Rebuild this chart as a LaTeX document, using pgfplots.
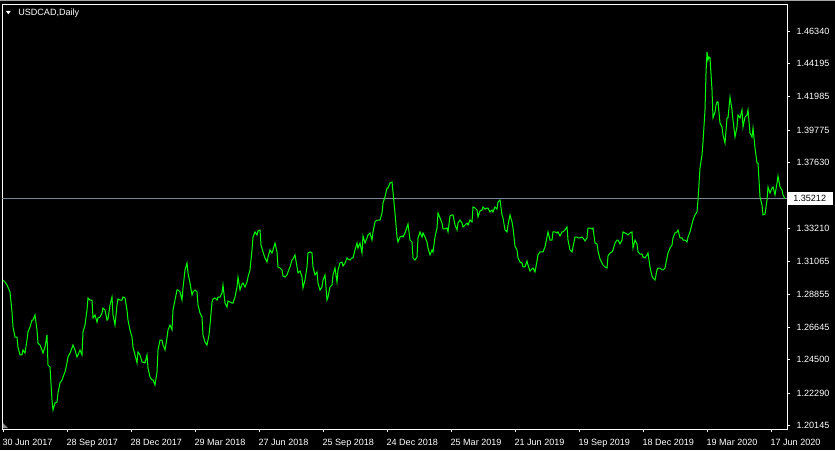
\documentclass[border=0pt]{standalone}
\usepackage{fontspec}
\setmainfont{Liberation Sans}
\usepackage{pgfplots}
\pgfplotsset{compat=1.18}
\definecolor{mtlime}{RGB}{0,255,0}
\definecolor{bidgray}{RGB}{119,136,153}
\begin{document}
\fontsize{6.8}{8}\selectfont
\begin{tikzpicture}[x=0.75pt,y=0.75pt]
\fill[black] (0,0) rectangle (835,450);
\fill[black!35] (0,448.6) rectangle (835,450);
\begin{axis}[
  at={(1.5pt,15.75pt)}, anchor=south west,
  scale only axis, width=588.98pt, height=318.53pt,
  xmin=2, xmax=787.3, ymin=1.19897, ymax=1.48135,
  axis line style={white, line width=0.75pt},
  tick style={white, line width=0.75pt},
  tick align=outside, major tick length=2.25pt,
  xtick pos=left, ytick pos=right,
  yticklabel pos=right,
  xtick={3.3,67.3,131.3,195.3,259.3,323.3,387.3,451.3,515.3,579.3,643.3,707.3,771.3},
  xticklabels={30 Jun 2017,28 Sep 2017,28 Dec 2017,29 Mar 2018,27 Jun 2018,25 Sep 2018,24 Dec 2018,25 Mar 2019,21 Jun 2019,19 Sep 2019,18 Dec 2019,19 Mar 2020,17 Jun 2020},
  ytick={1.20145,1.22290,1.24500,1.26645,1.28855,1.31065,1.33210,1.37630,1.39775,1.41985,1.44195,1.46340},
  yticklabels={1.20145,1.22290,1.24500,1.26645,1.28855,1.31065,1.33210,1.37630,1.39775,1.41985,1.44195,1.46340},
  xticklabel style={anchor=base west, inner sep=0pt, xshift=-0.75pt, yshift=-9.75pt, text=white},
  yticklabel style={anchor=west, inner sep=0pt, xshift=4.5pt, text=white},
  xmajorgrids=false, ymajorgrids=false,
]
\addplot[bidgray, line width=0.75pt, forget plot] coordinates {(2,1.35212) (787.3,1.35212)};
\addplot[mtlime, line width=0.75pt, no marks, sharp plot] coordinates {
(3,1.2980)(5,1.2967)(7,1.2947)(10,1.2901)(12,1.2768)(13,1.2668)(15,1.2601)(17,1.2601)(18,1.2535)(20,1.2482)
(22,1.2482)(23,1.2515)(25,1.2495)(27,1.2581)(28,1.2635)(30,1.2668)(32,1.2714)(33,1.2714)(35,1.2748)(37,1.2648)
(38,1.2561)(40,1.2548)(42,1.2515)(43,1.2495)(45,1.2535)(47,1.2615)(48,1.2415)(50,1.2402)(52,1.2183)(53,1.2116)
(55,1.2163)(57,1.2169)(58,1.2229)(60,1.2296)(62,1.2316)(63,1.2335)(65,1.2369)(67,1.2429)(68,1.2468)(70,1.2495)
(72,1.2528)(73,1.2548)(75,1.2515)(77,1.2468)(78,1.2482)(80,1.2515)(82,1.2482)(83,1.2635)(85,1.2681)(87,1.2781)
(88,1.2861)(90,1.2847)(92,1.2847)(93,1.2728)(95,1.2748)(97,1.2701)(98,1.2728)(100,1.2734)(102,1.2761)(103,1.2794)
(105,1.2781)(107,1.2714)(108,1.2721)(110,1.2814)(112,1.2867)(113,1.2748)(115,1.2681)(117,1.2814)(118,1.2854)(120,1.2847)
(122,1.2847)(123,1.2867)(125,1.2861)(127,1.2781)(128,1.2714)(130,1.2648)(132,1.2601)(133,1.2535)(135,1.2482)(137,1.2429)
(138,1.2502)(140,1.2482)(142,1.2435)(143,1.2435)(145,1.2429)(147,1.2482)(148,1.2395)(150,1.2335)(152,1.2316)(153,1.2316)
(155,1.2282)(157,1.2369)(158,1.2515)(160,1.2581)(162,1.2581)(163,1.2548)(165,1.2515)(167,1.2595)(168,1.2648)(170,1.2681)
(172,1.2648)(173,1.2781)(175,1.2847)(177,1.2914)(178,1.2914)(180,1.2901)(182,1.2847)(183,1.2927)(185,1.3047)(187,1.3093)
(188,1.3027)(190,1.2960)(192,1.2881)(193,1.2901)(195,1.2914)(197,1.2901)(198,1.2814)(200,1.2761)(202,1.2734)(203,1.2615)
(205,1.2568)(207,1.2548)(209,1.2615)(210,1.2681)(212,1.2834)(213,1.2854)(215,1.2861)(217,1.2847)(218,1.2867)(220,1.2867)
(222,1.2894)(223,1.2947)(225,1.2827)(227,1.2801)(228,1.2841)(230,1.2834)(232,1.2827)(233,1.2827)(235,1.2867)(237,1.2934)
(238,1.3000)(240,1.2914)(242,1.2954)(243,1.2960)(245,1.2934)(247,1.2967)(248,1.3000)(250,1.3047)(252,1.3180)(253,1.3266)
(255,1.3300)(257,1.3280)(258,1.3306)(260,1.3313)(261,1.3213)(263,1.3167)(265,1.3127)(267,1.3100)(268,1.3133)(270,1.3180)
(272,1.3160)(273,1.3180)(275,1.3226)(277,1.3167)(278,1.3067)(280,1.3060)(282,1.3047)(283,1.3007)(285,1.3000)(287,1.3014)
(288,1.3034)(290,1.3067)(292,1.3113)(293,1.3120)(295,1.3147)(297,1.3067)(298,1.3027)(300,1.3040)(302,1.3000)(303,1.2927)
(305,1.2980)(307,1.3067)(308,1.3160)(310,1.3167)(312,1.3160)(313,1.3067)(315,1.3014)(317,1.3034)(318,1.2960)(320,1.2914)
(322,1.2934)(323,1.2980)(325,1.3014)(327,1.2847)(328,1.2867)(330,1.2934)(332,1.2947)(333,1.3014)(335,1.3060)(337,1.2967)
(338,1.3047)(340,1.3093)(342,1.3100)(343,1.3073)(345,1.3093)(347,1.3127)(348,1.3120)(350,1.3113)(352,1.3127)(353,1.3127)
(355,1.3180)(357,1.3226)(358,1.3193)(360,1.3226)(362,1.3160)(363,1.3273)(365,1.3226)(367,1.3260)(368,1.3280)(370,1.3293)
(372,1.3246)(373,1.3300)(375,1.3366)(377,1.3379)(378,1.3379)(380,1.3379)(382,1.3426)(383,1.3492)(385,1.3532)(387,1.3592)
(388,1.3592)(390,1.3625)(392,1.3632)(393,1.3566)(395,1.3426)(397,1.3266)(398,1.3233)(400,1.3266)(402,1.3273)(403,1.3266)
(405,1.3293)(407,1.3333)(408,1.3353)(410,1.3246)(412,1.3233)(413,1.3127)(415,1.3113)(417,1.3133)(418,1.3260)(420,1.3300)
(422,1.3266)(423,1.3293)(425,1.3266)(427,1.3233)(428,1.3193)(430,1.3147)(432,1.3180)(433,1.3167)(435,1.3266)(437,1.3326)
(438,1.3426)(440,1.3393)(442,1.3359)(443,1.3320)(445,1.3320)(447,1.3326)(448,1.3300)(450,1.3406)(452,1.3413)(453,1.3413)
(455,1.3346)(457,1.3313)(458,1.3359)(460,1.3379)(462,1.3359)(463,1.3333)(465,1.3346)(467,1.3359)(468,1.3346)(470,1.3379)
(472,1.3366)(473,1.3466)(475,1.3459)(477,1.3446)(478,1.3399)(480,1.3439)(482,1.3446)(483,1.3466)(485,1.3452)(487,1.3459)
(488,1.3459)(490,1.3433)(492,1.3446)(493,1.3433)(495,1.3466)(497,1.3452)(498,1.3499)(500,1.3512)(502,1.3413)(503,1.3393)
(505,1.3313)(507,1.3300)(508,1.3346)(510,1.3413)(512,1.3366)(513,1.3326)(515,1.3206)(517,1.3180)(518,1.3127)(520,1.3100)
(522,1.3093)(523,1.3067)(525,1.3067)(527,1.3107)(528,1.3080)(530,1.3040)(532,1.3054)(533,1.3060)(535,1.3034)(537,1.3107)
(538,1.3147)(540,1.3167)(542,1.3167)(543,1.3167)(545,1.3200)(547,1.3266)(548,1.3300)(550,1.3246)(552,1.3246)(553,1.3300)
(555,1.3300)(557,1.3293)(558,1.3300)(560,1.3273)(562,1.3300)(563,1.3300)(565,1.3313)(567,1.3333)(568,1.3246)(570,1.3180)
(572,1.3167)(573,1.3200)(575,1.3266)(577,1.3266)(578,1.3260)(580,1.3260)(582,1.3266)(583,1.3260)(585,1.3240)(587,1.3260)
(588,1.3326)(590,1.3326)(592,1.3320)(593,1.3326)(595,1.3226)(597,1.3220)(598,1.3173)(600,1.3120)(602,1.3093)(603,1.3080)
(605,1.3067)(607,1.3060)(608,1.3140)(610,1.3160)(612,1.3167)(613,1.3180)(615,1.3226)(617,1.3246)(618,1.3246)(620,1.3220)
(622,1.3246)(623,1.3300)(625,1.3293)(627,1.3286)(628,1.3280)(630,1.3293)(632,1.3300)(633,1.3193)(635,1.3246)(637,1.3220)
(638,1.3167)(640,1.3153)(642,1.3153)(643,1.3133)(645,1.3127)(647,1.3147)(648,1.3160)(650,1.3067)(652,1.3007)(653,1.2994)
(655,1.2980)(657,1.3047)(658,1.3060)(660,1.3060)(662,1.3047)(663,1.3047)(665,1.3060)(667,1.3127)(668,1.3160)(670,1.3193)
(672,1.3213)(673,1.3260)(675,1.3293)(677,1.3300)(678,1.3313)(680,1.3260)(682,1.3260)(683,1.3246)(685,1.3246)(687,1.3233)
(688,1.3266)(690,1.3300)(692,1.3353)(693,1.3379)(695,1.3413)(697,1.3433)(698,1.3512)(700,1.3725)(702,1.3812)(703,1.3898)
(705,1.4111)(706,1.4357)(707,1.4496)(708,1.4443)(709,1.4463)(710,1.4457)(712,1.4244)(713,1.4058)(715,1.4097)(716,1.4144)
(717,1.4164)(718,1.4164)(720,1.4024)(722,1.3998)(723,1.3945)(725,1.3891)(727,1.4058)(728,1.4058)(730,1.4197)(732,1.4111)
(733,1.4044)(735,1.3931)(737,1.3998)(738,1.4077)(740,1.4058)(742,1.4111)(743,1.3998)(745,1.4064)(747,1.4077)(748,1.4111)
(750,1.3958)(752,1.3931)(753,1.3991)(755,1.3858)(757,1.3758)(758,1.3758)(760,1.3532)(762,1.3479)(763,1.3413)(765,1.3419)
(767,1.3512)(768,1.3599)(770,1.3559)(772,1.3592)(773,1.3599)(775,1.3546)(777,1.3625)(778,1.3672)(780,1.3599)(782,1.3579)
(783,1.3546)(785,1.35212)
};
\end{axis}
% chart title with MT4 drop-down triangle
\fill[white] (6,439) -- (10.7,439) -- (8.35,435.7) -- cycle;
\node[anchor=base west, inner sep=0pt, text=white] at (18,434) {USDCAD,Daily};
% shift marker bottom-left
\fill[black!45] (2.8,21.8) -- (2.8,27) -- (8,21.8) -- cycle;
% current price label
\fill[white] (788,245) rectangle (833,258);
\node[anchor=west, inner sep=0pt, text=black] at (793,251.7) {1.35212};
\pgfresetboundingbox
\useasboundingbox (0,0) rectangle (835,450);
\end{tikzpicture}
\end{document}
